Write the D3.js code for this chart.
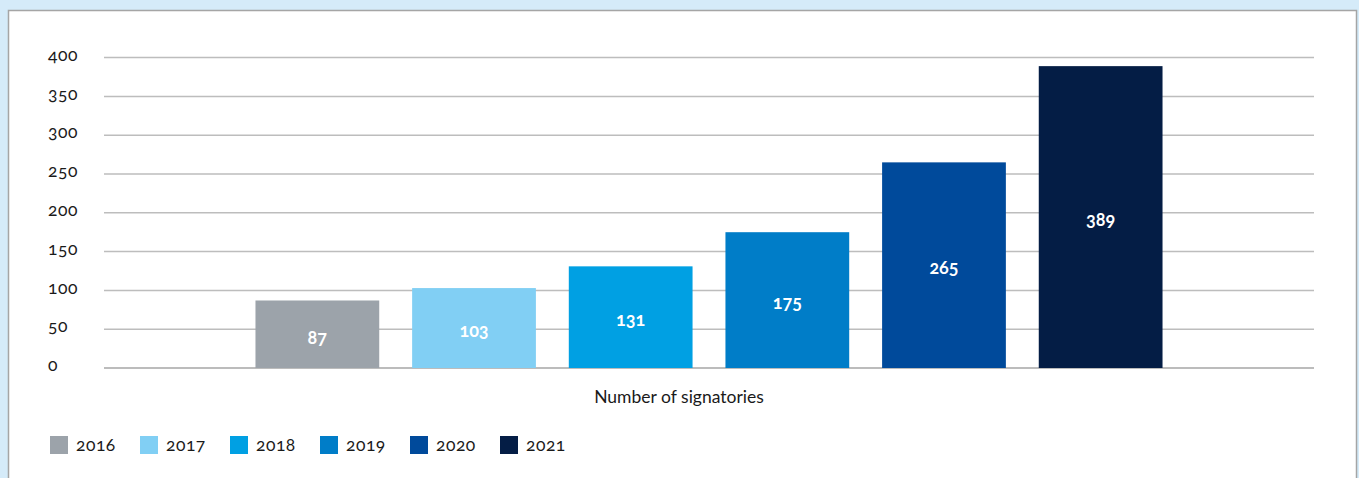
<!DOCTYPE html>
<html>
<head>
<meta charset="utf-8">
<script src="https://cdn.jsdelivr.net/npm/d3@7"></script>
<style>
  body { margin: 0; background: #d5ebf9; font-family: Lato, "Open Sans", sans-serif; }
  svg text { font-variant-numeric: oldstyle-nums; }
</style>
</head>
<body>
<div id="chart"></div>
<script>
var category = "Number of signatories";
var years = ["2016", "2017", "2018", "2019", "2020", "2021"];
var values = [87, 103, 131, 175, 265, 389];
var colors = ["#9ca3aa", "#81cff4", "#00a0e3", "#007dc8", "#004a9b", "#041d45"];
var yTicks = [0, 50, 100, 150, 200, 250, 300, 350, 400];

var W = 1359, H = 478;

var svg = d3.select("#chart")
  .append("svg")
  .attr("width", W)
  .attr("height", H);

// white panel
svg.append("rect")
  .attr("x", 8.5).attr("y", 10.5)
  .attr("width", 1348).attr("height", 480)
  .style("fill", "#fff")
  .style("stroke", "#a5a5a5")
  .style("stroke-width", 1.5);

var y = d3.scaleLinear().domain([0, 400]).range([368, 57.6]);

var x0 = d3.scaleBand()
  .domain([category])
  .range([104, 1314])
  .paddingOuter(0.167);

var x1 = d3.scaleBand()
  .domain(years)
  .range([0, x0.bandwidth()])
  .paddingInner(0.21)
  .paddingOuter(0);

// gridlines
svg.append("g")
  .selectAll("line")
  .data(yTicks)
  .enter().append("line")
  .attr("x1", 104).attr("x2", 1314)
  .attr("y1", function(d) { return y(d); })
  .attr("y2", function(d) { return y(d); })
  .style("stroke", function(d) { return d === 0 ? "#a6a6a6" : "#bdbdbd"; })
  .style("stroke-width", 1.5);

// y tick labels
svg.append("g")
  .selectAll("text")
  .data(yTicks)
  .enter().append("text")
  .attr("x", 48)
  .attr("y", function(d) { return y(d) - 3; })
  .attr("dy", "0.35em")
  .text(function(d) { return d; })
  .style("font-size", "17.5px")
  .style("letter-spacing", "0.5px")
  .style("fill", "#1a1a1a");

var bars = svg.append("g")
  .attr("transform", "translate(" + x0(category) + ",0)");

bars.selectAll("rect")
  .data(values)
  .enter().append("rect")
  .attr("x", function(d, i) { return x1(years[i]); })
  .attr("y", function(d) { return y(d); })
  .attr("width", x1.bandwidth())
  .attr("height", function(d) { return y(0) - y(d); })
  .style("fill", function(d, i) { return colors[i]; });

bars.selectAll("text")
  .data(values)
  .enter().append("text")
  .attr("x", function(d, i) { return x1(years[i]) + x1.bandwidth() / 2; })
  .attr("y", function(d) { return (y(d) + y(0)) / 2 + 3; })
  .attr("dy", "0.35em")
  .text(function(d) { return d; })
  .style("text-anchor", "middle")
  .style("font-size", "18px")
  .style("font-weight", "bold")
  .style("fill", "#fff");

// axis title
svg.append("text")
  .attr("x", 679)
  .attr("y", 397)
  .attr("dy", "0.35em")
  .text(category)
  .style("text-anchor", "middle")
  .style("font-size", "17.5px")
  .style("fill", "#1a1a1a");

// legend
var legend = svg.append("g")
  .selectAll("g")
  .data(years)
  .enter().append("g")
  .attr("transform", function(d, i) { return "translate(" + (50 + i * 90) + ",436)"; });

legend.append("rect")
  .attr("width", 18).attr("height", 18)
  .style("fill", function(d, i) { return colors[i]; });

legend.append("text")
  .attr("x", 26)
  .attr("y", 9)
  .attr("dy", "0.35em")
  .text(function(d) { return d; })
  .style("font-size", "17.5px")
  .style("letter-spacing", "0.5px")
  .style("fill", "#1a1a1a");
</script>
</body>
</html>
